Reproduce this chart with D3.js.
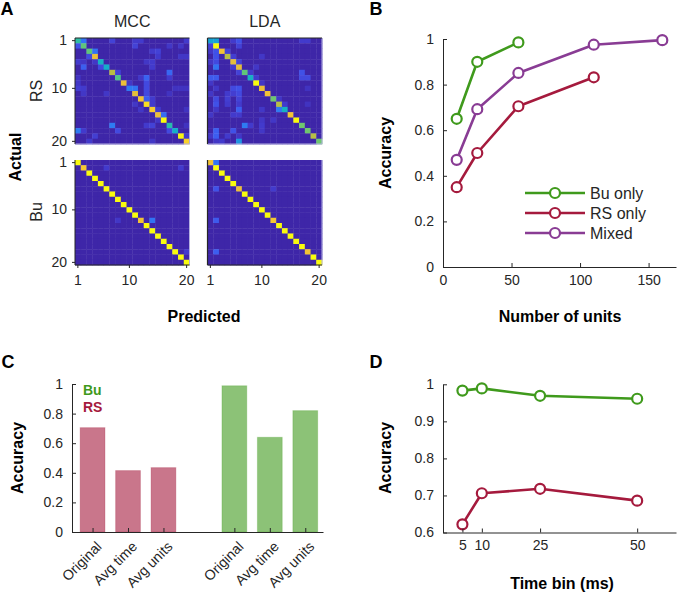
<!DOCTYPE html>
<html><head><meta charset="utf-8">
<script src="https://cdn.jsdelivr.net/npm/d3@7"></script>
<style>
body{margin:0;background:#fff}
text{font-family:"Liberation Sans",Arial,Helvetica,sans-serif;fill:#262626}
.axis path,.axis line{stroke:#262626;stroke-width:1}
</style>
</head><body>
<svg id="fig" width="678" height="594"></svg>
<script>
// ---------------- DATA ----------------
const classIdx = d3.range(20);               // classes 1..20
const classTicks = [1, 10, 20];
const methods = ["MCC", "LDA"];
const cellTypes = ["RS", "Bu"];

// confusion matrices: diagonal values + sparse off-diagonal [row, col, value]
const mccRSDiag = [0.5,0.58,0.58,0.8,0.42,0.4,0.7,0.55,0.8,0.22,0.78,0.82,0.92,0.86,0.8,1.0,0.48,0.4,0.98,0.88];
const mccRSOff = [[0,1,0.2],[0,6,0.08],[0,10,0.06],[0,11,0.06],[0,19,0.06],[1,0,0.12],[1,10,0.08],[1,16,0.05],[1,18,0.05],
 [2,3,0.2],[2,13,0.06],[2,14,0.08],[3,2,0.1],[3,14,0.06],[3,18,0.05],[3,19,0.05],[4,0,0.06],[4,1,0.05],[4,3,0.05],[4,12,0.05],[4,13,0.06],
 [5,1,0.15],[5,4,0.1],[5,13,0.06],[6,7,0.08],[6,16,0.17],[7,0,0.04],[7,11,0.05],[7,12,0.16],[7,16,0.06],[8,0,0.05],[8,9,0.05],[8,12,0.1],
 [9,0,0.07],[9,1,0.06],[9,10,0.2],[9,12,0.1],[9,17,0.04],[9,18,0.04],[9,19,0.04],[10,1,0.05],[10,5,0.05],[10,12,0.1],[10,16,0.04],
 [11,12,0.15],[11,13,0.06],[12,10,0.05],[12,13,0.06],[13,11,0.05],[13,14,0.06],[13,19,0.04],[14,15,0.18],[15,14,0.05],
 [16,6,0.22],[16,12,0.06],[16,13,0.08],[16,19,0.04],[17,0,0.22],[17,1,0.06],[17,7,0.1],[17,16,0.1],[18,3,0.07],[18,19,0.06],[19,2,0.06],[19,13,0.05]];
const ldaRSDiag = [0.35,1.0,0.82,0.7,0.78,0.78,0.58,0.42,1.0,0.8,0.82,0.6,0.7,0.42,0.83,1.0,0.6,0.6,0.7,0.6];
const ldaRSOff = [[0,1,0.35],[0,4,0.06],[0,5,0.12],[0,16,0.06],[0,17,0.06],[1,0,0.08],[1,5,0.08],[2,0,0.05],[2,1,0.12],[2,3,0.08],
 [3,1,0.12],[3,4,0.07],[3,9,0.05],[4,0,0.05],[4,1,0.1],[4,5,0.08],[5,1,0.2],[5,4,0.06],[5,8,0.05],[6,5,0.08],[6,7,0.06],[6,16,0.12],
 [7,0,0.14],[7,1,0.14],[7,8,0.06],[7,16,0.1],[7,17,0.1],[8,0,0.05],[8,9,0.05],[9,1,0.05],[9,4,0.1],[9,5,0.12],[9,17,0.04],
 [10,0,0.05],[10,3,0.06],[10,4,0.07],[10,5,0.1],[11,1,0.1],[11,3,0.07],[11,5,0.08],[11,12,0.05],[12,1,0.12],[12,3,0.06],[12,5,0.06],[12,13,0.06],[12,17,0.04],
 [13,1,0.05],[13,5,0.15],[13,9,0.05],[13,12,0.22],[14,0,0.05],[14,4,0.06],[14,5,0.06],[15,9,0.05],[15,11,0.05],[16,6,0.22],[16,7,0.06],[16,9,0.06],
 [17,1,0.15],[17,4,0.12],[17,9,0.05],[18,0,0.05],[18,1,0.15],[18,3,0.06],[18,5,0.05],[19,1,0.05],[19,2,0.06],[19,5,0.3]];
const mccBuDiag = [1,0.85,1,1,1,1,1,1,1,1,1,0.82,1,1,1,1,1,1,1,1];
const mccBuOff = [[1,5,0.06],[1,18,0.06],[11,7,0.05],[11,13,0.2],[17,19,0.06]];
const ldaBuDiag = [0.82,1,1,1,1,0.8,1,1,1,1,1,0.85,1,1,1,1,1,0.82,1,1];
const ldaBuOff = [[0,1,0.2],[5,1,0.12],[5,11,0.06],[11,1,0.14],[17,1,0.15]];

// panel B: accuracy vs number of units
const unitsBu = [10, 25, 55];
const accBu = [0.65, 0.90, 0.985];
const unitsRS = [10, 25, 55, 110];
const accRS = [0.35, 0.50, 0.705, 0.832];
const unitsMixed = [10, 25, 55, 110, 160];
const accMixed = [0.47, 0.692, 0.851, 0.975, 0.995];
const seriesNames = ["Bu only", "RS only", "Mixed"];
const unitTicks = [0, 50, 100, 150];
const accTicks = [0, 0.2, 0.4, 0.6, 0.8, 1];

// panel C: shuffles
const conditions = ["Original", "Avg time", "Avg units"];
const accCondRS = [0.705, 0.415, 0.435];
const accCondBu = [0.988, 0.64, 0.82];

// panel D: time bins
const timeBins = [5, 10, 25, 50];
const accBinBu = [0.983, 0.989, 0.969, 0.961];
const accBinRS = [0.622, 0.706, 0.718, 0.686];
const accTicksD = [0.6, 0.7, 0.8, 0.9, 1];

// ---------------- STYLE ----------------
const green = "#3f9a1c", red = "#a51a3d", purple = "#893c94";
const parulaStops = ["#3e26a8","#4747e6","#3275fb","#1e97e2","#0eafcb","#28bea8","#6ecb6e","#b9be3c","#f5b93c","#fad628","#f9fb0e"];
const cmap = d3.scaleSequential(d3.interpolateRgbBasis(parulaStops)).domain([0,1]);

const svg = d3.select("#fig");

function panelLetter(t, x, y){
  svg.append("text").attr("x", x).attr("y", y).attr("font-size", 18).attr("font-weight", "bold")
     .attr("text-anchor","middle").style("fill","#000").text(t);
}

// ---------------- PANEL A ----------------
panelLetter("A", 7, 15);
function buildMatrix(diag, off){
  const m = classIdx.map(() => classIdx.map(() => 0));
  diag.forEach((v,i) => m[i][i] = v);
  off.forEach(([r,c,v]) => m[r][c] = v);
  const cells = [];
  m.forEach((row,r) => row.forEach((v,c) => cells.push({r,c,v})));
  return cells;
}
function heat(x0, y0, w, h, diag, off, opts){
  const xs = d3.scaleBand().domain(classIdx).range([x0, x0+w]);
  const ys = d3.scaleBand().domain(classIdx).range([y0, y0+h]);
  const g = svg.append("g");
  g.selectAll("rect").data(buildMatrix(diag, off)).join("rect")
    .attr("x", d => xs(d.c)).attr("y", d => ys(d.r))
    .attr("width", xs.bandwidth()+0.4).attr("height", ys.bandwidth()+0.4)
    .attr("fill", d => cmap(d.v));
  g.append("line").attr("x1", x0+w).attr("x2", x0+w).attr("y1", y0).attr("y2", y0+h)
    .attr("stroke", "#b4b0e0").attr("stroke-width", 1);
  if (opts.top) {
    g.append("line").attr("x1", x0).attr("x2", x0+w).attr("y1", y0).attr("y2", y0)
      .attr("stroke", "#262626").attr("stroke-width", 1.2);
    g.append("line").attr("x1", x0).attr("x2", x0+w).attr("y1", y0+h).attr("y2", y0+h)
      .attr("stroke", "#b4b0e0").attr("stroke-width", 1);
  }
  if (opts.left) {
    const ax = svg.append("g").attr("class","axis").attr("transform", `translate(${x0},0)`)
      .call(d3.axisLeft(ys).tickValues(classTicks.map(t=>t-1)).tickFormat(d=>d+1).tickSize(3).tickSizeOuter(0).tickPadding(5));
    ax.select(".domain").attr("d", `M0,${y0}V${y0+h}`).attr("stroke-width",1.2);
    ax.selectAll("text").attr("font-size", 14).style("font-family","Liberation Sans, Arial, sans-serif");
  } else {
    g.append("line").attr("x1", x0).attr("x2", x0).attr("y1", y0).attr("y2", y0+h)
      .attr("stroke", "#262626").attr("stroke-width", 1.2);
  }
  if (opts.bottom) {
    const ax = svg.append("g").attr("class","axis").attr("transform", `translate(0,${y0+h})`)
      .call(d3.axisBottom(xs).tickValues(classTicks.map(t=>t-1)).tickFormat(d=>d+1).tickSize(3).tickSizeOuter(0).tickPadding(7));
    ax.select(".domain").attr("d", `M${x0},0H${x0+w}`).attr("stroke-width",1.2);
    ax.selectAll("text").attr("font-size", 14).style("font-family","Liberation Sans, Arial, sans-serif");
  }
}
const hx = [75, 207.5], hw = 114.5, hy = [38, 160], hh = 106;
heat(hx[0], hy[0], hw, hh, mccRSDiag, mccRSOff, {top:true, left:true});
heat(hx[1], hy[0], hw, hh, ldaRSDiag, ldaRSOff, {top:true, left:false});
heat(hx[0], hy[1], hw, hh-1, mccBuDiag, mccBuOff, {bottom:true, left:true});
heat(hx[1], hy[1], hw, hh-1, ldaBuDiag, ldaBuOff, {bottom:true, left:false});
methods.forEach((m,i) => svg.append("text").attr("x", hx[i]+hw/2).attr("y", 27).attr("text-anchor","middle")
  .attr("font-size", 16).text(m));
const rowLabelY = [91, 212];
cellTypes.forEach((t,i) => svg.append("text").attr("transform", `translate(42,${rowLabelY[i]}) rotate(-90)`)
  .attr("text-anchor","middle").attr("font-size", 16).text(t));
svg.append("text").attr("transform","translate(21,157) rotate(-90)").attr("text-anchor","middle")
  .attr("font-size",16).attr("font-weight","bold").style("fill","#000").text("Actual");
svg.append("text").attr("x", 204).attr("y", 322).attr("text-anchor","middle")
  .attr("font-size",16).attr("font-weight","bold").style("fill","#000").text("Predicted");

// ---------------- helpers ----------------
function styleAxis(ax){
  ax.selectAll("text").attr("font-size", 14).style("font-family","Liberation Sans, Arial, sans-serif").style("fill","#262626");
  ax.selectAll("line,path").attr("stroke","#262626");
}
function series(g, xs, ys, xv, yv, color){
  const pts = xv.map((x,i) => [x, yv[i]]);
  g.append("path").datum(pts).attr("fill","none").attr("stroke", color).attr("stroke-width", 2.6)
    .attr("stroke-linejoin","round")
    .attr("d", d3.line().x(d => xs(d[0])).y(d => ys(d[1])));
  g.selectAll(null).data(pts).join("circle").attr("cx", d => xs(d[0])).attr("cy", d => ys(d[1]))
    .attr("r", 5).attr("fill","#fff").attr("stroke", color).attr("stroke-width", 2.2);
}

// ---------------- PANEL B ----------------
panelLetter("B", 376, 15);
{
  const xs = d3.scaleLinear().domain([0,170]).range([443, 676]);
  const ys = d3.scaleLinear().domain([0,1]).range([267, 39]);
  const g = svg.append("g");
  const ax = svg.append("g").attr("class","axis").attr("transform","translate(0,267)")
    .call(d3.axisBottom(xs).tickValues(unitTicks).tickSize(-4).tickSizeOuter(0).tickPadding(8).tickFormat(d=>String(d)));
  styleAxis(ax);
  const ay = svg.append("g").attr("class","axis").attr("transform","translate(443,0)")
    .call(d3.axisLeft(ys).tickValues(accTicks).tickSize(-4).tickSizeOuter(0).tickPadding(9).tickFormat(d=>String(d)));
  styleAxis(ay);
  series(g, xs, ys, unitsBu, accBu, green);
  series(g, xs, ys, unitsRS, accRS, red);
  series(g, xs, ys, unitsMixed, accMixed, purple);
  const cols = [green, red, purple];
  seriesNames.forEach((n,i) => {
    const y = 193 + i*20;
    g.append("line").attr("x1", 525).attr("x2", 585).attr("y1", y).attr("y2", y).attr("stroke", cols[i]).attr("stroke-width", 2.6);
    g.append("circle").attr("cx", 555).attr("cy", y).attr("r", 5).attr("fill","#fff").attr("stroke", cols[i]).attr("stroke-width", 2.2);
    g.append("text").attr("x", 590).attr("y", y).attr("dy","0.35em").attr("font-size", 16).text(n);
  });
  svg.append("text").attr("transform","translate(391,153) rotate(-90)").attr("text-anchor","middle")
    .attr("font-size",16).attr("font-weight","bold").style("fill","#000").text("Accuracy");
  svg.append("text").attr("x", 560).attr("y", 322).attr("text-anchor","middle")
    .attr("font-size",16).attr("font-weight","bold").style("fill","#000").text("Number of units");
}

// ---------------- PANEL C ----------------
panelLetter("C", 8, 368);
{
  const xs = d3.scaleLinear().domain([0.42, 7.5]).range([72, 323]);
  const ys = d3.scaleLinear().domain([0,1]).range([532, 384]);
  const pos = [1,2,3,5,6,7];
  const bars = conditions.map((c,i) => ({p: pos[i], v: accCondRS[i], col: red, name: c}))
    .concat(conditions.map((c,i) => ({p: pos[i+3], v: accCondBu[i], col: green, name: c})));
  const bw = 0.35;
  svg.append("g").selectAll("rect").data(bars).join("rect")
    .attr("x", d => xs(d.p - bw)).attr("width", d => xs(d.p + bw) - xs(d.p - bw))
    .attr("y", d => ys(d.v)).attr("height", d => ys(0) - ys(d.v))
    .attr("fill", d => d.col).attr("fill-opacity", 0.6)
    .attr("stroke", d => d.col).attr("stroke-opacity", 0.25).attr("stroke-width", 1);
  const ax = svg.append("g").attr("class","axis").attr("transform","translate(0,532)")
    .call(d3.axisBottom(xs).tickValues(pos).tickSize(-4).tickSizeOuter(0)
      .tickFormat(d => bars.find(b => b.p === d).name));
  styleAxis(ax);
  ax.selectAll("text").attr("font-size", 14.2).attr("text-anchor","end").attr("y", 0).attr("dy", "0.35em")
    .attr("transform","translate(6,12) rotate(-45)");
  const ay = svg.append("g").attr("class","axis").attr("transform","translate(72,0)")
    .call(d3.axisLeft(ys).tickValues(accTicks).tickSize(-4).tickSizeOuter(0).tickPadding(9).tickFormat(d=>String(d)));
  styleAxis(ay);
  svg.append("text").attr("x", 83).attr("y", 395).attr("font-size", 14).attr("font-weight","bold")
    .style("fill", green).text(cellTypes[1]);
  svg.append("text").attr("x", 83).attr("y", 412).attr("font-size", 14).attr("font-weight","bold")
    .style("fill", red).text(cellTypes[0]);
  svg.append("text").attr("transform","translate(23,458) rotate(-90)").attr("text-anchor","middle")
    .attr("font-size",16).attr("font-weight","bold").style("fill","#000").text("Accuracy");
}

// ---------------- PANEL D ----------------
panelLetter("D", 376, 368);
{
  const xs = d3.scaleLinear().domain([0, 60]).range([443, 676]);
  const ys = d3.scaleLinear().domain([0.6, 1]).range([532.5, 384.3]);
  const g = svg.append("g");
  const ax = svg.append("g").attr("class","axis").attr("transform","translate(0,532.5)")
    .call(d3.axisBottom(xs).tickValues(timeBins).tickSize(-4).tickSizeOuter(0).tickPadding(8).tickFormat(d=>String(d)));
  styleAxis(ax);
  const ay = svg.append("g").attr("class","axis").attr("transform","translate(443,0)")
    .call(d3.axisLeft(ys).tickValues(accTicksD).tickSize(-4).tickSizeOuter(0).tickPadding(9).tickFormat(d=>String(d)));
  styleAxis(ay);
  series(g, xs, ys, timeBins, accBinBu, green);
  series(g, xs, ys, timeBins, accBinRS, red);
  svg.append("text").attr("transform","translate(391,458) rotate(-90)").attr("text-anchor","middle")
    .attr("font-size",16).attr("font-weight","bold").style("fill","#000").text("Accuracy");
  svg.append("text").attr("x", 562).attr("y", 589).attr("text-anchor","middle")
    .attr("font-size",16).attr("font-weight","bold").style("fill","#000").text("Time bin (ms)");
}
</script>
</body></html>
